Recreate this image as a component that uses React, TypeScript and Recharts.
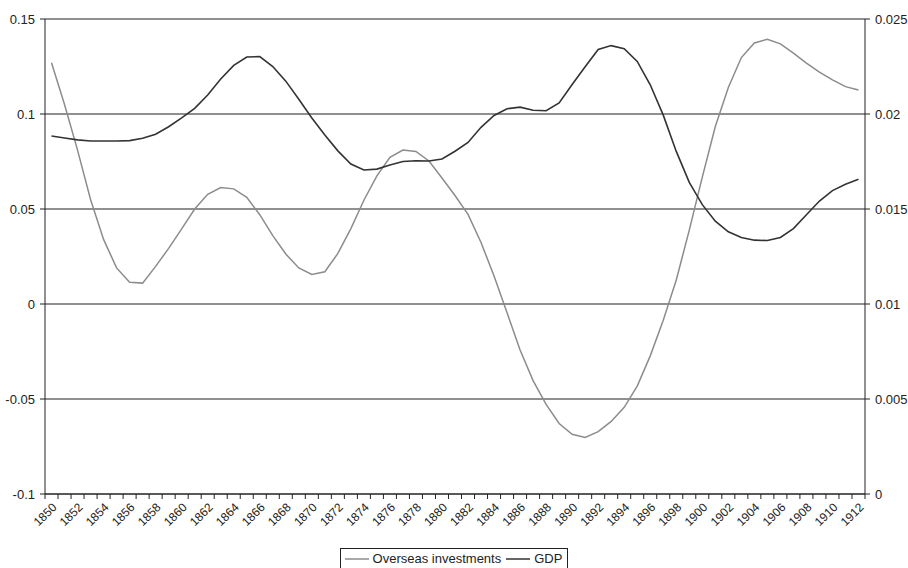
import { LineChart, Line, XAxis, YAxis, CartesianGrid, Legend } from "recharts";

const years = Array.from({ length: 63 }, (_, i) => String(1850 + i));

const overseas = [
  0.127, 0.105, 0.081, 0.055, 0.034, 0.019, 0.0115, 0.011, 0.0198, 0.0293,
  0.0395, 0.05, 0.0577, 0.0613, 0.0606, 0.0561, 0.047, 0.036, 0.0263, 0.019,
  0.0156, 0.017, 0.0266, 0.0397, 0.0546, 0.0674, 0.0772, 0.081, 0.0803, 0.0753,
  0.0663, 0.0571, 0.0472, 0.0324, 0.0147, -0.0046, -0.0242, -0.0403, -0.0528, -0.0629,
  -0.0686, -0.0702, -0.0672, -0.0618, -0.0544, -0.0432, -0.0273, -0.0085, 0.0126, 0.0389,
  0.0668, 0.0934, 0.114, 0.1297, 0.1374, 0.1393, 0.1369, 0.132, 0.1268, 0.122,
  0.118, 0.1144, 0.1126,
];

const gdp = [
  0.01884, 0.01874, 0.01864, 0.01858, 0.01858, 0.01858, 0.0186, 0.01872, 0.01894, 0.01933,
  0.0198, 0.0203, 0.021, 0.02184, 0.02256, 0.023, 0.02302, 0.0225, 0.02173, 0.02078,
  0.01979, 0.0189, 0.01806, 0.01737, 0.01705, 0.0171, 0.01732, 0.0175, 0.01754, 0.01753,
  0.01763, 0.01804, 0.0185, 0.0193, 0.01992, 0.02028, 0.02036, 0.0202, 0.02017, 0.02058,
  0.02155, 0.02249, 0.0234, 0.0236, 0.02344, 0.02277, 0.02154, 0.01994, 0.01803, 0.0164,
  0.01523, 0.01436, 0.0138, 0.0135, 0.01336, 0.01334, 0.0135, 0.01397, 0.0147, 0.01542,
  0.01597, 0.0163, 0.01656,
];

const leftTicks = [-0.1, -0.05, 0, 0.05, 0.1, 0.15];
const rightTicks = [0, 0.005, 0.01, 0.015, 0.02, 0.025];

const data = years.map((year, i) => ({ year, overseas: overseas[i], gdp: gdp[i] }));

const FONT = "'Liberation Sans', Arial, sans-serif";
const INK = "#222";
const STEP = 820 / 63;

function YearTick(props: any) {
  const { x, y, payload, index } = props;
  const yr = Number(payload.value);
  return (
    <g>
      <line x1={x - STEP / 2} x2={x - STEP / 2} y1={y} y2={y + 5} stroke={INK} />
      {index === years.length - 1 && (
        <line x1={x + STEP / 2} x2={x + STEP / 2} y1={y} y2={y + 5} stroke={INK} />
      )}
      {yr % 2 === 0 && (
        <text
          x={x + 3}
          y={y + 11}
          transform={`rotate(-45, ${x + 3}, ${y + 11})`}
          textAnchor="end"
          dy="0.35em"
          fontSize={12}
          fontFamily={FONT}
          fill={INK}
        >
          {payload.value}
        </text>
      )}
    </g>
  );
}

function LegendBox() {
  const item = (color: string, label: string) => (
    <span style={{ display: "inline-flex", alignItems: "center", marginRight: 5 }}>
      <svg width={24} height={10} style={{ marginRight: 4 }}>
        <line x1={0} x2={24} y1={5} y2={5} stroke={color} strokeWidth={1.5} />
      </svg>
      {label}
    </span>
  );
  return (
    <div style={{ height: 20, textAlign: "center" }}>
      <div
        style={{
          display: "inline-flex",
          alignItems: "center",
          height: 22,
          boxSizing: "border-box",
          border: `1px solid ${INK}`,
          padding: "0 0 0 4px",
          fontSize: 13,
          fontFamily: FONT,
          color: INK,
          lineHeight: "20px",
        }}
      >
        {item("#8c8c8c", "Overseas investments")}
        {item("#333", "GDP")}
      </div>
    </div>
  );
}

export default function App() {
  return (
    <div style={{ position: "absolute", left: 0, top: 0 }}>
      <LineChart
        width={908}
        height={568}
        data={data}
        margin={{ top: 19, right: 0, bottom: 0, left: 0 }}
      >
        <CartesianGrid vertical={false} stroke={INK} strokeWidth={1.2} yAxisId="left" />
        <XAxis
          dataKey="year"
          interval={0}
          padding={{ left: STEP / 2, right: STEP / 2 }}
          tickLine={false}
          tickSize={0}
          tickMargin={0}
          height={54}
          axisLine={{ stroke: INK }}
          tick={<YearTick />}
        />
        <YAxis
          yAxisId="left"
          domain={[-0.1, 0.15]}
          ticks={leftTicks}
          width={45}
          tickSize={5}
          tickMargin={5}
          axisLine={{ stroke: INK }}
          tickLine={{ stroke: INK }}
          tick={{ fontSize: 13, fill: INK, fontFamily: FONT }}
        />
        <YAxis
          yAxisId="right"
          orientation="right"
          domain={[0, 0.025]}
          ticks={rightTicks}
          width={43}
          tickSize={5}
          tickMargin={5}
          axisLine={{ stroke: INK }}
          tickLine={{ stroke: INK }}
          tick={{ fontSize: 13, fill: INK, fontFamily: FONT }}
        />
        <Legend verticalAlign="bottom" content={<LegendBox />} wrapperStyle={{ bottom: 0 }} />
        <Line
          yAxisId="left"
          type="linear"
          dataKey="overseas"
          name="Overseas investments"
          stroke="#8c8c8c"
          strokeWidth={1.5}
          dot={false}
          isAnimationActive={false}
        />
        <Line
          yAxisId="right"
          type="linear"
          dataKey="gdp"
          name="GDP"
          stroke="#333"
          strokeWidth={1.6}
          dot={false}
          isAnimationActive={false}
        />
      </LineChart>
    </div>
  );
}
